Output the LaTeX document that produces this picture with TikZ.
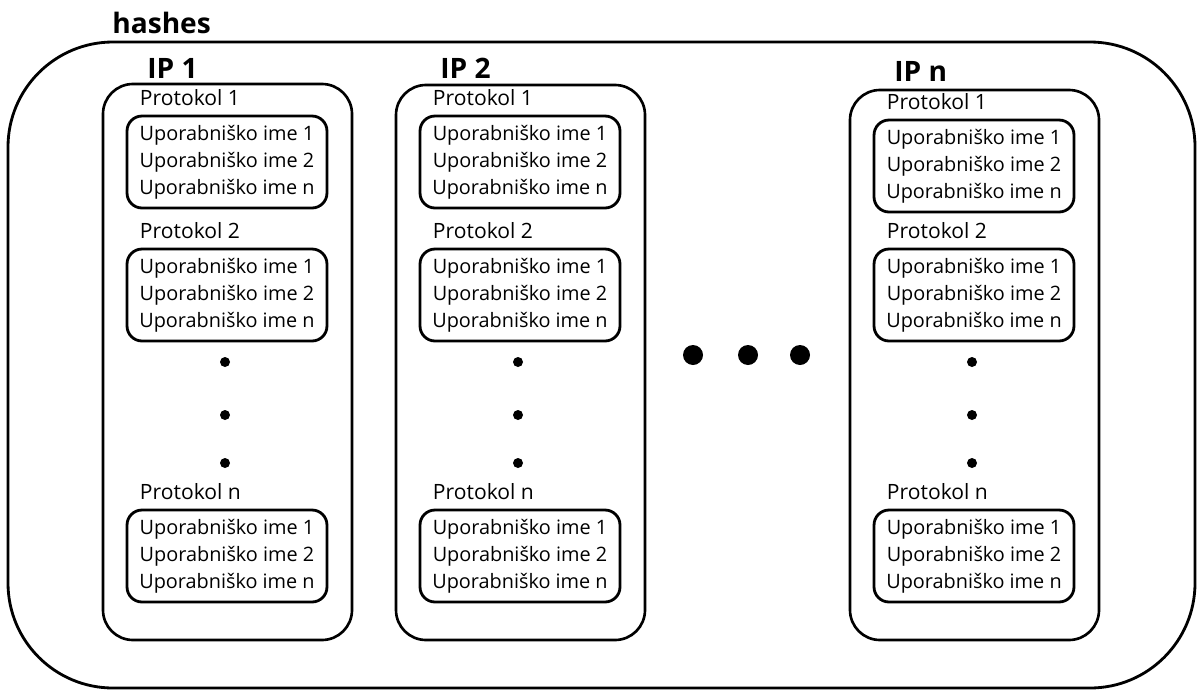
\documentclass[tikz,border=0pt]{standalone}
\usepackage{fontspec}
\setmainfont{Open Sans}
\usepackage{tikz}
\usetikzlibrary{positioning}

\begin{document}
\begin{tikzpicture}[x=0.02cm, y=-0.02cm]
	\tikzset{frame/.style={draw, line width=1.6pt, rounded corners=2.1cm}}
	\tikzset{colbox/.style={draw, line width=1.5pt, rounded corners=0.6cm}}
	\tikzset{userbox/.style={draw, line width=1.6pt, rounded corners=0.3cm, minimum width=4cm, minimum height=1.84cm, align=center, inner sep=0pt, font=\fontsize{11.3}{15.4}\selectfont}}
	\tikzset{proto/.style={anchor=base west, inner sep=0pt, font=\fontsize{12}{14}\selectfont}}
	\tikzset{head/.style={anchor=base west, inner sep=0pt, font=\fontsize{16}{18}\selectfont\bfseries}}
	\useasboundingbox (0,0) rectangle (1202,690);
	% outer frame
	\draw[frame] (8,42) rectangle (1195,688);
	\node[head] (hashes) at (112,33) {hashes};
	% one column per IP
	\foreach \c/\lx/\top/\fy/\ly/\lab in {1/103/84/162/78/IP 1, 2/396/85/162/78/IP 2, 3/850/90/166/81/IP n}{
		\draw[colbox] (\lx,\top) rectangle ++(249,640-\top);
		\node[head] (ip\c) at (\lx+44,\ly) {\lab};
		\foreach \p/\py/\pl in {1/\fy/1, 2/295/2, 3/556/n}{
			\node[userbox] (u\c\p) at (\lx+124,\py) {Uporabniško ime 1\\Uporabniško ime 2\\Uporabniško ime n};
			\node[proto] (p\c\p) at ([shift={(14,-9)}]u\c\p.north west) {Protokol \pl};
		}
		\foreach \dy in {362,415,463}
			\fill (\lx+122,\dy) circle (0.1cm);
	}
	% more IPs
	\foreach \dx in {693,748,800}
		\fill (\dx,355) circle (0.2cm);
\end{tikzpicture}
\end{document}
